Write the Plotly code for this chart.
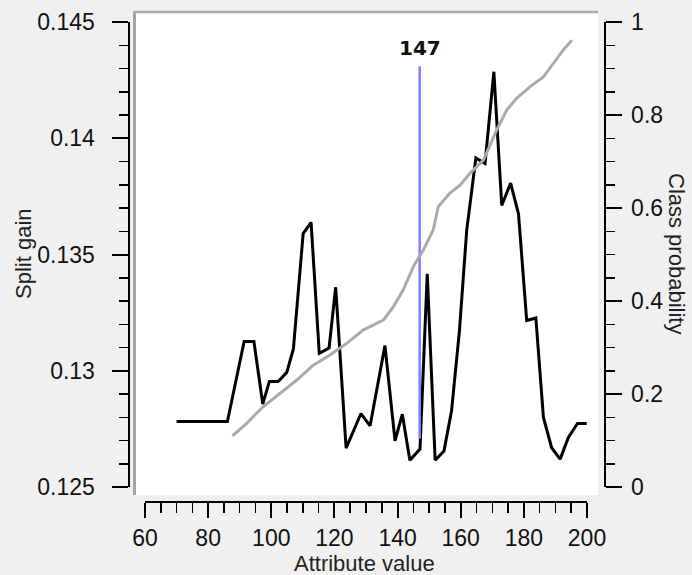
import plotly.graph_objects as go

W, H = 692, 575

# ---- data ----
split_x = [70.0, 86.1, 91.4, 94.5, 97.3, 99.4, 102.2, 104.9, 107.0, 110.1, 112.6,
           115.2, 118.3, 120.4, 123.7, 128.4, 131.3, 136.0, 139.2, 141.5, 143.9,
           147.1, 149.4, 151.9, 154.7, 157.1, 159.6, 161.9, 164.8, 167.7, 170.5,
           173.0, 175.8, 178.3, 180.9, 183.8, 186.2, 188.8, 191.5, 194.1, 197.0, 199.9]
split_gain = [0.12782, 0.12782, 0.13126, 0.13126, 0.12857, 0.12954, 0.12954, 0.12993,
              0.13094, 0.13590, 0.13638, 0.13075, 0.13098, 0.13359, 0.12667, 0.12816,
              0.12763, 0.13108, 0.12698, 0.12813, 0.12615, 0.12663, 0.13417, 0.12615,
              0.12655, 0.12828, 0.13173, 0.13604, 0.13915, 0.13891, 0.14286, 0.13711,
              0.13807, 0.13675, 0.13216, 0.13227, 0.12799, 0.12669, 0.12620, 0.12713,
              0.12773, 0.12773]

prob_x = [87.7, 92.2, 97.5, 102.8, 108.1, 113.3, 118.6, 123.9, 129.2, 131.3, 135.5,
          138.7, 141.8, 145.0, 148.2, 151.3, 152.9, 156.6, 159.8, 163.0, 167.2, 171.4,
          174.6, 177.7, 182.0, 186.2, 189.3, 192.5, 195.2]
class_prob = [0.110, 0.137, 0.173, 0.2015, 0.230, 0.262, 0.284, 0.309, 0.338, 0.345,
              0.359, 0.388, 0.424, 0.474, 0.510, 0.553, 0.603, 0.632, 0.649, 0.675,
              0.703, 0.768, 0.811, 0.836, 0.861, 0.882, 0.911, 0.940, 0.961]

split_point = 147
split_line_gain = [0.12707, 0.14310]
split_label = "147"

x_title = "Attribute value"
y_title = "Split gain"
y2_title = "Class probability"

# ---- layout helpers (pixel -> paper) ----
def px(x):
    return x / W

def py(y):
    return 1 - y / H

font_family = "Liberation Sans, Arial, sans-serif"
tick_font = dict(family=font_family, size=23, color="#111111")
title_font = dict(family=font_family, size=22, color="#222222")

fig = go.Figure()

fig.add_trace(go.Scatter(x=prob_x, y=class_prob, yaxis="y2", mode="lines",
                         line=dict(color="#aaaaaa", width=3), hoverinfo="skip"))
fig.add_trace(go.Scatter(x=split_x, y=split_gain, mode="lines",
                         line=dict(color="#000000", width=3), hoverinfo="skip"))
fig.add_trace(go.Scatter(x=[split_point, split_point], y=split_line_gain, mode="lines",
                         line=dict(color="#7f7fff", width=2.5), hoverinfo="skip"))

fig.update_layout(
    width=W, height=H,
    margin=dict(l=0, r=0, t=0, b=0, pad=0),
    paper_bgcolor="#f0f0f0",
    plot_bgcolor="rgba(0,0,0,0)",
    showlegend=False,
    xaxis=dict(
        domain=[px(145), px(587)], range=[60, 200],
        anchor="free", position=py(502), automargin=False,
        showgrid=False, zeroline=False,
        showline=True, linecolor="black", linewidth=2,
        ticks="outside", tick0=60, dtick=20, ticklen=15, tickwidth=2, tickcolor="black",
        minor=dict(ticks="outside", dtick=5, ticklen=10, tickwidth=1.5, tickcolor="black"),
        tickfont=tick_font, ticklabelstandoff=0,
    ),
    yaxis=dict(
        domain=[py(487), py(22)], range=[0.125, 0.145],
        anchor="free", position=px(128.5), automargin=False,
        showgrid=False, zeroline=False,
        showline=True, linecolor="black", linewidth=2,
        ticks="outside", tick0=0.125, dtick=0.005, ticklen=16, tickwidth=2, tickcolor="black",
        minor=dict(ticks="outside", dtick=0.001, ticklen=9, tickwidth=1.5, tickcolor="black"),
        tickfont=tick_font, ticklabelstandoff=12,
        tickformat="~g",
    ),
    yaxis2=dict(
        overlaying="y", side="right", range=[0, 1],
        anchor="free", position=px(604.5), automargin=False,
        showgrid=False, zeroline=False,
        showline=True, linecolor="black", linewidth=2,
        ticks="outside", tick0=0, dtick=0.2, ticklen=16, tickwidth=2, tickcolor="black",
        minor=dict(ticks="outside", dtick=0.05, ticklen=9, tickwidth=1.5, tickcolor="black"),
        tickfont=tick_font, ticklabelstandoff=5,
        tickformat="~g",
    ),
    shapes=[
        dict(type="rect", xref="paper", yref="paper", layer="below",
             x0=px(133), x1=px(598), y0=py(495), y1=py(11),
             fillcolor="white", line=dict(width=0)),
        dict(type="line", xref="paper", yref="paper", layer="below",
             x0=px(134.5), x1=px(134.5), y0=py(495), y1=py(11),
             line=dict(color="#a4a4a4", width=3)),
        dict(type="line", xref="paper", yref="paper", layer="below",
             x0=px(133), x1=px(598), y0=py(12), y1=py(12),
             line=dict(color="#ababab", width=2.5)),
    ],
    annotations=[
        dict(text=split_label, x=split_point, xref="x", y=py(48), yref="paper",
             showarrow=False, xanchor="center", yanchor="middle",
             font=dict(family="DejaVu Sans, sans-serif", size=20, color="#111111",
                       weight="bold")),
        dict(text=x_title, x=px(364), y=py(563), xref="paper", yref="paper",
             showarrow=False, xanchor="center", yanchor="middle", font=title_font),
        dict(text=y_title, x=px(24), y=py(253), xref="paper", yref="paper",
             showarrow=False, xanchor="center", yanchor="middle", textangle=-90,
             font=title_font),
        dict(text=y2_title, x=px(676), y=py(253), xref="paper", yref="paper",
             showarrow=False, xanchor="center", yanchor="middle", textangle=90,
             font=title_font),
    ],
)

page_js = ("document.body.style.margin='0';"
           "document.body.style.padding='0';"
           "document.body.style.overflow='hidden';"
           "document.body.style.background='#f0f0f0';")

fig.write_html("out.html", post_script=page_js,
               config={"displayModeBar": False, "staticPlot": True})
